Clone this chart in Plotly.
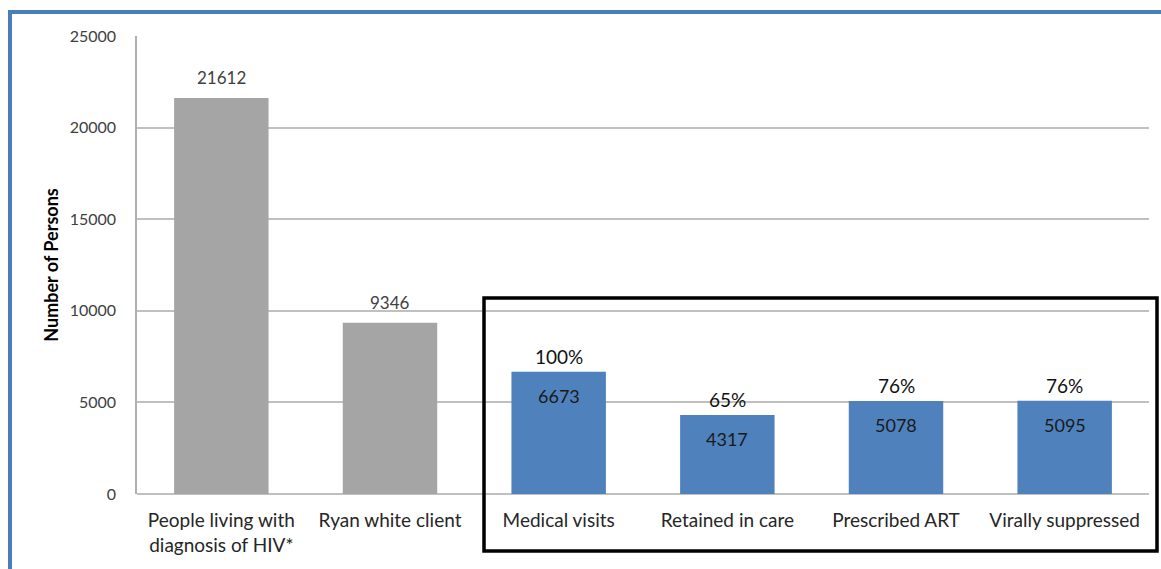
import plotly.graph_objects as go

categories = ["People living with<br>diagnosis of HIV*", "Ryan white client",
              "Medical visits", "Retained in care", "Prescribed ART", "Virally suppressed"]
values = [21612, 9346, 6673, 4317, 5078, 5095]
percent_labels = ["", "", "100%", "65%", "76%", "76%"]
bar_colors = ["#A5A5A5", "#A5A5A5", "#4F81BD", "#4F81BD", "#4F81BD", "#4F81BD"]
y_ticks = [0, 5000, 10000, 15000, 20000, 25000]

FONT = "Lato"
W, H = 1161, 569
ML, MR, MT, MB = 137, 12, 36, 75
PW, PH = W - ML - MR, H - MT - MB

def px(x):
    return (x - ML) / PW

def py(y):
    return (H - MB - y) / PH

fig = go.Figure()
fig.add_trace(go.Bar(x=categories, y=values, marker=dict(color=bar_colors, line=dict(width=0)),
                     hoverinfo="x+y"))

annotations = []
for i, (c, v, p) in enumerate(zip(categories, values, percent_labels)):
    if p:
        annotations.append(dict(x=c, y=v, xref="x", yref="y", text=str(v), showarrow=False,
                                yanchor="top", yshift=-11,
                                font=dict(family=FONT, size=18, color="#1a1a1a")))
        annotations.append(dict(x=c, y=v, xref="x", yref="y", text=p, showarrow=False,
                                yanchor="bottom", yshift=2,
                                font=dict(family=FONT, size=19, color="#111111")))
    else:
        annotations.append(dict(x=c, y=v, xref="x", yref="y", text=str(v), showarrow=False,
                                yanchor="bottom", yshift=8,
                                font=dict(family=FONT, size=17, color="#404040")))

shapes = [
    # blue frame (top & left)
    dict(type="line", xref="paper", yref="paper", x0=px(8), x1=px(W + 5), y0=py(12), y1=py(12),
         line=dict(color="#4A7EBB", width=4)),
    dict(type="line", xref="paper", yref="paper", x0=px(10), x1=px(10), y0=py(10), y1=py(H + 5),
         line=dict(color="#4A7EBB", width=4)),
    # black highlight box
    dict(type="rect", xref="paper", yref="paper", x0=px(484), x1=px(1157), y0=py(551), y1=py(298),
         line=dict(color="#000000", width=3.5), fillcolor="rgba(0,0,0,0)"),
]

fig.update_layout(
    width=W, height=H,
    margin=dict(l=ML, r=MR, t=MT, b=MB),
    paper_bgcolor="white", plot_bgcolor="white",
    bargap=0.44,
    showlegend=False,
    font=dict(family=FONT, size=16, color="#404040"),
    annotations=annotations,
    shapes=shapes,
)
fig.update_xaxes(showgrid=False, showline=False, ticks="", ticklabelstandoff=13,
                 tickfont=dict(family=FONT, size=19, color="#262626"))
fig.update_yaxes(range=[0, 25000], tickvals=y_ticks, ticktext=[str(t) for t in y_ticks],
                 showgrid=True, gridcolor="#C0C0C0", gridwidth=2,
                 showline=True, linecolor="#B0B0B0", linewidth=1.5,
                 zeroline=True, zerolinecolor="#C0C0C0", zerolinewidth=2,
                 ticks="", ticklabelstandoff=16,
                 tickfont=dict(family=FONT, size=16, color="#404040"),
                 title=dict(text="<b>Number of Persons</b>", standoff=6,
                            font=dict(family=FONT, size=18, color="#000000")))

fig.write_html("out.html")
